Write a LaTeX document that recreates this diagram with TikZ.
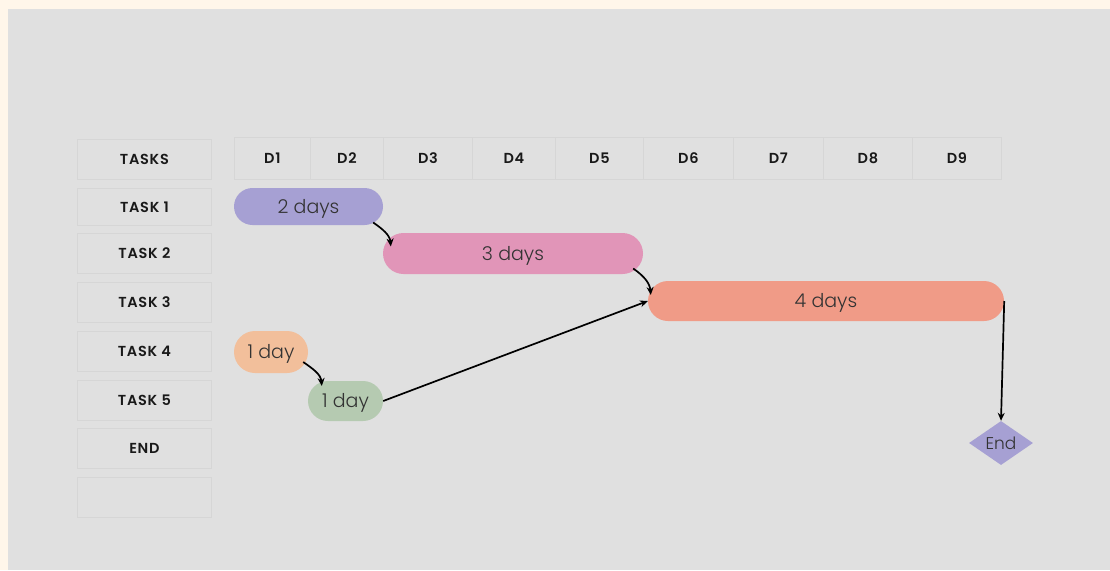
\documentclass[tikz,border=0pt]{standalone}
\usepackage{fontspec}
\setmainfont{Poppins}
\newfontfamily\hdrfont[LetterSpace=5]{Poppins SemiBold}
\newfontfamily\barfont{Poppins Light}
\usetikzlibrary{shapes.geometric,shapes.misc,arrows.meta}
\definecolor{cream}{HTML}{FFF6EA}
\definecolor{panel}{HTML}{E0E0E0}
\definecolor{cellline}{HTML}{D6D6D6}
\definecolor{lavender}{HTML}{A6A0D3}
\definecolor{rose}{HTML}{E195B8}
\definecolor{salmon}{HTML}{F09B87}
\definecolor{peach}{HTML}{F2BF9B}
\definecolor{sage}{HTML}{B5CAB1}
\definecolor{ink}{HTML}{333333}
\tikzset{
  x=1pt, y=-1pt,
  cell/.style={draw=cellline, line width=0.8pt, fill=panel, inner sep=0pt,
    font=\hdrfont\fontsize{14.5}{16}\selectfont, text=black!90,
    text height=10.2pt, text depth=0pt},
  bar/.style={rounded rectangle, inner sep=0pt, font=\barfont\fontsize{19}{21}\selectfont, text=ink,
    text height=13.4pt, text depth=0pt},
  link/.style={draw=black, line width=1.7pt, -{Stealth[length=8pt,width=7pt]}},
}
\newcommand{\cellat}[6]{% name, x1, y1, x2, y2, text
  \node[cell, minimum width=#4-#2, minimum height=#5-#3, anchor=north west] (#1) at (#2,#3) {#6};}
\begin{document}
\begin{tikzpicture}
\useasboundingbox (0,0) rectangle (1110,570);
\fill[cream] (0,0) rectangle (1110,570);
\fill[panel] (8,9) rectangle (1110,570);

% task column
\cellat{hTasks}{77}{139}{211}{179}{TASKS}
\cellat{t1}{77}{188}{211}{225}{TASK 1}
\cellat{t2}{77}{233}{211}{273}{TASK 2}
\cellat{t3}{77}{282}{211}{322}{TASK 3}
\cellat{t4}{77}{331}{211}{371}{TASK 4}
\cellat{t5}{77}{380}{211}{420}{TASK 5}
\cellat{tEnd}{77}{428}{211}{468}{END}
\cellat{tBlank}{77}{477}{211}{517}{}

% day header
\cellat{d1}{234}{137}{310}{179}{D1}
\cellat{d2}{310}{137}{383}{179}{D2}
\cellat{d3}{383}{137}{472}{179}{D3}
\cellat{d4}{472}{137}{555}{179}{D4}
\cellat{d5}{555}{137}{643}{179}{D5}
\cellat{d6}{643}{137}{733}{179}{D6}
\cellat{d7}{733}{137}{823}{179}{D7}
\cellat{d8}{823}{137}{912}{179}{D8}
\cellat{d9}{912}{137}{1001}{179}{D9}

% bars
\node[bar, fill=lavender, minimum width=149pt, minimum height=37pt] (b1) at (308.5,206.5) {2 days};
\node[bar, fill=rose, minimum width=260pt, minimum height=41pt] (b2) at (513,253.5) {3 days};
\node[bar, fill=salmon, minimum width=356pt, minimum height=40pt] (b3) at (826,301) {4 days};
\node[bar, fill=peach, minimum width=74pt, minimum height=42pt] (b4) at (271,352) {1 day};
\node[bar, fill=sage, minimum width=75pt, minimum height=40pt] (b5) at (345.5,401) {1 day};
\node[diamond, fill=lavender, minimum width=64pt, minimum height=44pt, inner sep=0pt,
  font=\barfont\fontsize{17}{19}\selectfont, text=ink, text height=12pt, text depth=0pt] (fin) at (1001,443) {End};

% dependencies
\draw[link] ([shift={(-10,16)}]b1.east) to[out=-35,in=95] ([shift={(8,-7)}]b2.west);
\draw[link] ([shift={(-10,15)}]b2.east) to[out=-35,in=95] ([shift={(3,-6)}]b3.west);
\draw[link] ([shift={(-5,10)}]b4.east) to[out=-35,in=95] ([shift={(14,-15)}]b5.west);
\draw[link] (b5.east) -- (b3.west);
\draw[link] (b3.east) -- (fin.north);
\end{tikzpicture}
\end{document}
